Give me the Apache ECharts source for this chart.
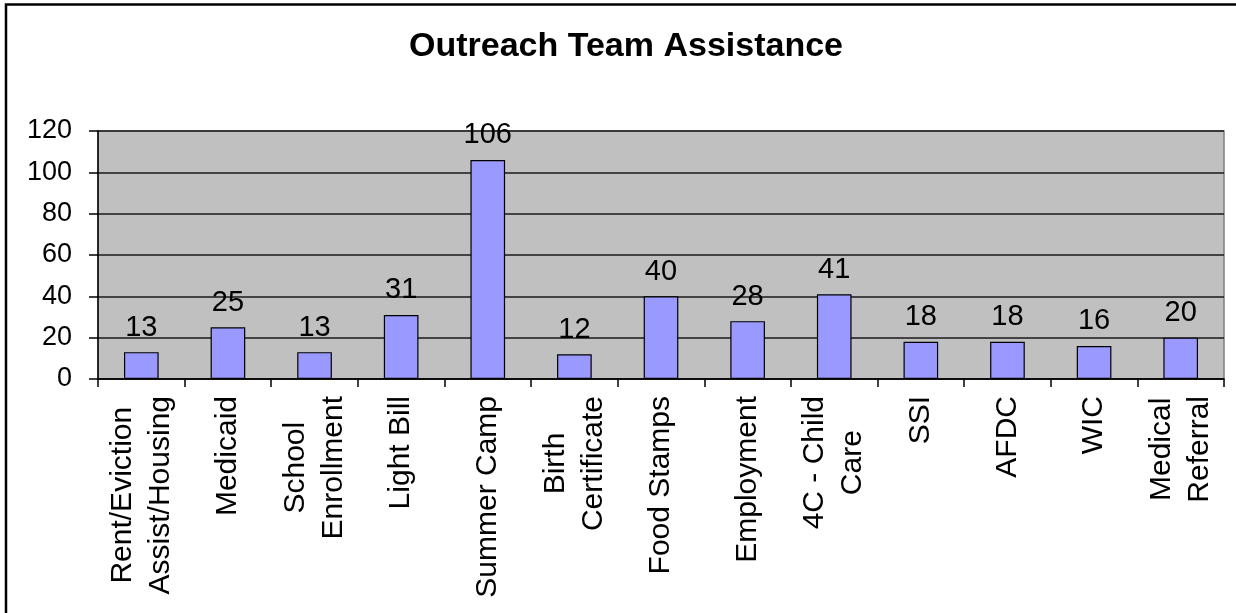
<!DOCTYPE html>
<html>
<head>
<meta charset="utf-8">
<style>
  html, body { margin: 0; padding: 0; background: #ffffff; }
  #chart { width: 1236px; height: 613px; }
</style>
<script src="https://cdn.jsdelivr.net/npm/echarts@6/dist/echarts.min.js"></script>
</head>
<body>
<div id="chart"></div>
<script>
// Assistance categories (line breaks as shown under the axis)
const categories = [
  'Rent/Eviction\nAssist/Housing',
  'Medicaid',
  'School\nEnrollment',
  'Light Bill',
  'Summer Camp',
  'Birth\nCertificate',
  'Food Stamps',
  'Employment',
  '4C - Child\nCare',
  'SSI',
  'AFDC',
  'WIC',
  'Medical\nReferral'
];

// Number of people helped in each category
const counts = [13, 25, 13, 31, 106, 12, 40, 28, 41, 18, 18, 16, 20];

// Value axis tick range
const yMin = 0;
const yMax = 120;
const yStep = 20;

const FONT = 'Liberation Sans, Arial, Helvetica, sans-serif';

const chart = echarts.init(document.getElementById('chart'), null, { renderer: 'canvas' });

chart.setOption({
  backgroundColor: '#ffffff',
  animation: false,
  title: {
    text: 'Outreach Team Assistance',
    left: 621,
    top: 25,
    textAlign: 'center',
    textStyle: { fontFamily: FONT, fontSize: 34, fontWeight: 'bold', color: '#000000' }
  },
  graphic: [{
    type: 'rect',
    shape: { x: 6, y: 4.5, width: 1400, height: 800 },
    style: { fill: null, stroke: '#000000', lineWidth: 2.5 },
    silent: true,
    z: 100
  }],
  grid: {
    left: 98,
    right: 12,
    top: 131,
    bottom: 234,
    show: true,
    backgroundColor: '#c0c0c0',
    borderColor: '#808080',
    borderWidth: 1.5
  },
  xAxis: {
    type: 'category',
    data: categories,
    axisLine: { show: true, lineStyle: { color: '#000000', width: 1.5 } },
    axisTick: { show: true, alignWithLabel: false, length: 8, lineStyle: { color: '#000000', width: 1.5 } },
    axisLabel: {
      interval: 0,
      rotate: 90,
      margin: 17,
      fontFamily: FONT,
      fontSize: 30,
      lineHeight: 38,
      color: '#000000',
      formatter: function (v) {
        return v.split('\n').map(function (line) { return '{c|' + line + '}'; }).join('\n');
      },
      rich: {
        c: { align: 'center', fontFamily: FONT, fontSize: 30, lineHeight: 38, color: '#000000' }
      }
    },
    splitLine: { show: false }
  },
  yAxis: {
    type: 'value',
    min: yMin,
    max: yMax,
    interval: yStep,
    axisLine: { show: true, lineStyle: { color: '#000000', width: 1.5 } },
    axisTick: { show: true, length: 9, lineStyle: { color: '#000000', width: 1.5 } },
    axisLabel: {
      margin: 26,
      fontFamily: FONT,
      fontSize: 27,
      color: '#000000'
    },
    splitLine: { show: true, lineStyle: { color: '#1a1a1a', width: 1.5 } }
  },
  series: [{
    type: 'bar',
    data: counts,
    barWidth: '40%',
    itemStyle: { color: '#9999ff', borderColor: '#000000', borderWidth: 1.2 },
    label: {
      show: true,
      position: 'top',
      distance: 10,
      fontFamily: FONT,
      fontSize: 29,
      color: '#000000'
    }
  }]
});
</script>
</body>
</html>
